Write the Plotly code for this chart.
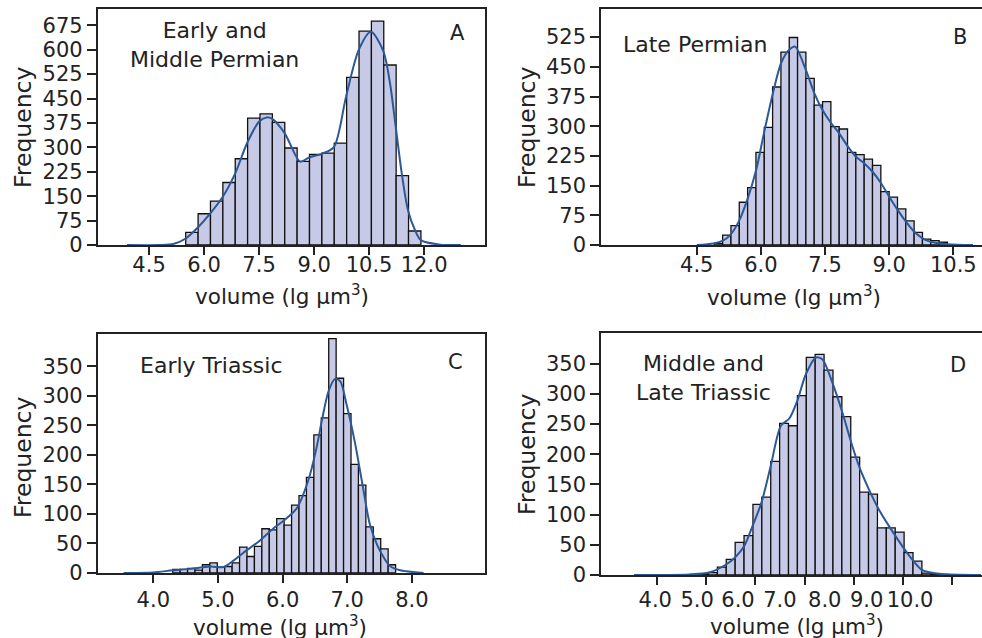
import numpy as np
import plotly.graph_objects as go

W, H = 982, 638

# ---------------- data ----------------
# Panel A: Early and Middle Permian
a_bin_start = 5.50
a_bin_width = 0.3375
a_counts = [39, 96, 135, 192, 265, 390, 403, 377, 298, 257, 278, 282, 313, 515, 657, 688, 553, 213, 43]
a_kde_x = [3.9, 4.80, 5.16, 5.50, 5.85, 6.17, 6.51, 6.85, 7.18, 7.51, 7.71, 7.85, 8.20, 8.62, 8.85,
           9.20, 9.54, 9.87, 10.22, 10.55, 10.89, 11.07, 11.22, 11.39, 11.56, 11.75, 11.91, 12.44, 13.0]
a_kde_y = [0, 0, 3, 20, 56, 97, 148, 220, 315, 380, 392, 388, 343, 256, 268,
           280, 301, 455, 600, 655, 595, 497, 368, 220, 107, 46, 15, 1, 0]
a_ticks = [4.5, 6.0, 7.5, 9.0, 10.5, 12.0]
a_yticks = [0, 75, 150, 225, 300, 375, 450, 525, 600, 675]

# Panel B: Late Permian
b_bin_start = 4.91
b_bin_width = 0.1947
b_counts = [4, 25, 49, 108, 145, 234, 297, 399, 487, 524, 487, 421, 353, 362, 299, 293, 234, 228,
            217, 201, 135, 121, 91, 61, 32, 15, 11, 7]
b_kde_x = [4.50, 4.89, 5.11, 5.28, 5.48, 5.68, 5.89, 6.07, 6.28, 6.47, 6.66, 6.80, 7.05, 7.25, 7.44,
           7.64, 7.83, 8.03, 8.22, 8.42, 8.61, 8.81, 9.00, 9.20, 9.39, 9.58, 9.78, 9.97, 10.36, 10.96]
b_kde_y = [0, 4, 11, 25, 59, 114, 190, 282, 383, 459, 493, 501, 442, 383, 341,
           308, 282, 249, 223, 206, 185, 156, 122, 88, 59, 34, 17, 8, 2, 0]
b_ticks = [4.5, 6.0, 7.5, 9.0, 10.5]
b_yticks = [0, 75, 150, 225, 300, 375, 450, 525]

# Panel C: Early Triassic
c_bin_start = 4.30
c_bin_width = 0.1149
c_counts = [6, 6, 8, 5, 14, 17, 10, 11, 17, 44, 28, 45, 75, 73, 92, 81, 115, 131, 162, 234,
            263, 397, 330, 270, 184, 149, 78, 58, 41, 14]
c_kde_x = [3.54, 4.00, 4.30, 4.57, 4.88, 5.08, 5.24, 5.39, 5.65, 5.86, 6.01, 6.22, 6.40, 6.53, 6.61,
           6.71, 6.81, 6.89, 6.99, 7.12, 7.23, 7.35, 7.46, 7.56, 7.66, 7.82, 8.18]
c_kde_y = [0, 1, 4.5, 7, 11, 10, 21, 34, 55, 76, 88, 110, 158, 215, 260,
           308, 329, 325, 285, 220, 153, 82, 48, 27, 12, 4.5, 0]
c_ticks = [4.0, 5.0, 6.0, 7.0, 8.0]
c_yticks = [0, 50, 100, 150, 200, 250, 300, 350]

# Panel D: Middle and Late Triassic
d_bin_start = 4.69
d_bin_width = 0.1804
d_counts = [1, 2, 4, 13, 26, 54, 65, 117, 129, 188, 251, 247, 297, 360, 365, 339, 295, 262, 195,
            137, 134, 78, 78, 71, 37, 23, 3, 2, 1]
d_kde_x = [3.54, 4.66, 5.06, 5.40, 5.59, 5.77, 5.94, 6.13, 6.31, 6.52, 6.69, 6.86, 7.02, 7.23, 7.36,
           7.57, 7.77, 7.97, 8.11, 8.31, 8.51, 8.72, 8.99, 9.19, 9.39, 9.73, 10.58]
d_kde_y = [0, 1, 4, 17, 29, 47, 80, 121, 179, 247, 259, 290, 331, 360, 357,
           317, 268, 213, 179, 141, 108, 80, 47, 25, 8, 2, 0]
d_ticks = [4.0, 5.0, 6.0, 7.0, 8.0, 9.0, 10.0]
d_yticks = [0, 50, 100, 150, 200, 250, 300, 350]

# ---------------- styling ----------------
FONT = "DejaVu Sans"
INK = "#222222"
BAR_FILL = "#c6cae6"
KDE_COLOR = "#2d5896"


def px_x(x):
    return x / W


def px_y(y):
    return 1 - y / H


panels = [
    dict(counts=a_counts, start=a_bin_start, width=a_bin_width, kx=a_kde_x, ky=a_kde_y,
         ticks=a_ticks, labelpos=a_ticks, yticks=a_yticks, xdom=(97.7, 485), ydom=(9, 245),
         xr=(3.10, 13.66), yr=(0, 725), mirror_y=True, standoff=0),
    dict(counts=b_counts, start=b_bin_start, width=b_bin_width, kx=b_kde_x, ky=b_kde_y,
         ticks=b_ticks, labelpos=b_ticks, yticks=b_yticks, xdom=(601, 982), ydom=(9, 245),
         xr=(2.26, 11.17), yr=(0, 596), mirror_y=False, standoff=0),
    dict(counts=c_counts, start=c_bin_start, width=c_bin_width, kx=c_kde_x, ky=c_kde_y,
         ticks=c_ticks, labelpos=c_ticks, yticks=c_yticks, xdom=(97.7, 485), ydom=(334, 573),
         xr=(3.14, 9.13), yr=(0, 405), mirror_y=True, standoff=7),
    dict(counts=d_counts, start=d_bin_start, width=d_bin_width, kx=d_kde_x, ky=d_kde_y,
         ticks=d_ticks, labelpos=[3.97, 4.82, 5.65, 6.50, 7.41, 8.26, 9.14],  # labels set tighter than ticks
         yticks=d_yticks, xdom=(601, 982), ydom=(333.3, 575),
         xr=(2.87, 10.60), yr=(0, 400), mirror_y=False, standoff=5),
]

fig = go.Figure()
layout = dict(
    width=W, height=H, margin=dict(l=0, r=0, t=0, b=0, autoexpand=False),
    paper_bgcolor="white", plot_bgcolor="white", showlegend=False,
    font=dict(family=FONT, color=INK, size=21),
)

for i, p in enumerate(panels):
    n = i + 1
    xa = "x" if n == 1 else f"x{n}"
    ya = "y" if n == 1 else f"y{n}"
    counts = np.array(p["counts"], dtype=float)
    centers = p["start"] + p["width"] * (np.arange(len(counts)) + 0.5)
    fig.add_trace(go.Bar(
        x=centers, y=counts, width=p["width"], xaxis=xa, yaxis=ya,
        marker=dict(color=BAR_FILL, line=dict(color="#111111", width=1.3)),
        hoverinfo="skip",
    ))
    fig.add_trace(go.Scatter(
        x=p["kx"], y=p["ky"], mode="lines", xaxis=xa, yaxis=ya,
        line=dict(color=KDE_COLOR, width=2, shape="spline", smoothing=0.8),
        hoverinfo="skip",
    ))
    xkey = "xaxis" if n == 1 else f"xaxis{n}"
    ykey = "yaxis" if n == 1 else f"yaxis{n}"
    # labels drawn by major ticks (no marks); tick marks drawn as minor ticks
    xaxis = dict(
        domain=[px_x(p["xdom"][0]), px_x(p["xdom"][1])], range=list(p["xr"]),
        anchor=ya, showgrid=False, zeroline=False, automargin=False,
        showline=True, linecolor=INK, linewidth=1.6, mirror=True,
        ticks="", tickmode="array", tickvals=p["labelpos"],
        ticktext=[f"{t:.1f}" for t in p["ticks"]],
        tickfont=dict(family=FONT, size=21, color=INK),
        ticklabelstandoff=p["standoff"],
        minor=dict(tickmode="array", tickvals=p["ticks"], ticks="outside",
                   ticklen=8, tickwidth=1.5, tickcolor=INK, showgrid=False),
    )
    yaxis = dict(
        domain=[px_y(p["ydom"][1]), px_y(p["ydom"][0])], range=list(p["yr"]),
        anchor=xa, showgrid=False, zeroline=False, automargin=False,
        showline=True, linecolor=INK, linewidth=1.6, mirror=p["mirror_y"],
        ticks="outside", ticklen=9, tickwidth=1.5, tickcolor=INK,
        tickmode="array", tickvals=p["yticks"],
        tickfont=dict(family=FONT, size=21, color=INK),
    )
    layout[xkey] = xaxis
    layout[ykey] = yaxis

fig.update_layout(**layout)

annos = []


def add_text(text, x, y, size=21, angle=0, yanchor="middle"):
    annos.append(dict(text=text, x=px_x(x), y=px_y(y), xref="paper", yref="paper",
                      showarrow=False, xanchor="center", yanchor=yanchor,
                      font=dict(family=FONT, size=size, color=INK), textangle=angle))


# panel texts
add_text("Early and<br>Middle Permian", 214, 45, size=22)
add_text("A", 457, 33)
add_text("Late Permian", 695, 44, size=22)
add_text("B", 960, 37)
add_text("Early Triassic", 211, 365, size=22)
add_text("C", 455, 362)
add_text("Middle and<br>Late Triassic", 703, 378, size=22)
add_text("D", 958, 365)

# axis titles (top of text box)
xt = "volume (lg μm<sup>3</sup>)"
add_text(xt, 282, 279, size=21.5, yanchor="top")
add_text(xt, 794, 280, size=21.5, yanchor="top")
add_text(xt, 280, 610, size=21.5, yanchor="top")
add_text(xt, 797, 609, size=21.5, yanchor="top")
add_text("Frequency", 23, 128, size=23.5, angle=-90)
add_text("Frequency", 527, 128, size=23.5, angle=-90)
add_text("Frequency", 23, 458, size=23.5, angle=-90)
add_text("Frequency", 527, 455, size=23.5, angle=-90)

fig.update_layout(annotations=annos)
fig.write_html(
    "out.html",
    config={"displayModeBar": False},
    post_script="document.body.style.margin='0px';document.body.style.overflow='hidden';",
)
